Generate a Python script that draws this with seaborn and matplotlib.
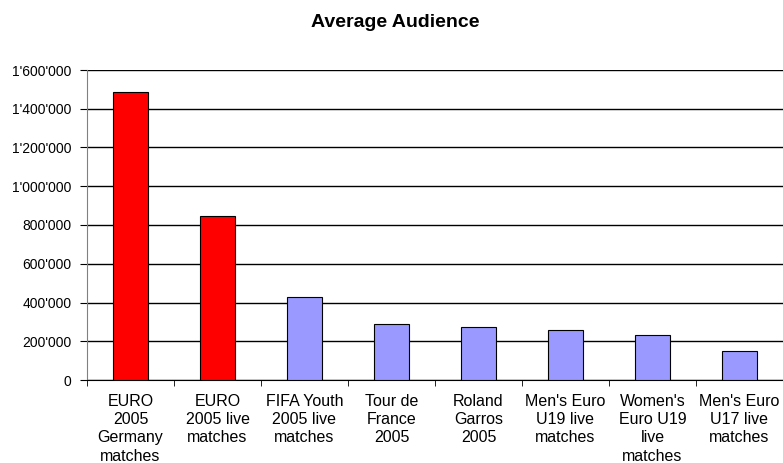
import matplotlib
matplotlib.use("Agg")
import matplotlib.pyplot as plt
import seaborn as sns
import numpy as np
from matplotlib.ticker import FuncFormatter, FixedLocator

# Data
categories = ["EURO\n2005\nGermany\nmatches", "EURO\n2005 live\nmatches", "FIFA Youth\n2005 live\nmatches",
              "Tour de\nFrance\n2005", "Roland\nGarros\n2005", "Men's Euro\nU19 live\nmatches",
              "Women's\nEuro U19\nlive\nmatches", "Men's Euro\nU17 live\nmatches"]
audience = [1485000, 845000, 430000, 290000, 275000, 258000, 232000, 150000]
bar_colors = ["#FF0000", "#FF0000", "#9999FF", "#9999FF", "#9999FF", "#9999FF", "#9999FF", "#9999FF"]

sns.set_style("white")
plt.rcParams['font.family'] = ['Liberation Sans', 'DejaVu Sans']
plt.rcParams['text.color'] = 'black'
plt.rcParams['xtick.color'] = 'black'
plt.rcParams['ytick.color'] = 'black'

fig = plt.figure(figsize=(7.83, 4.63), dpi=100)
ax = fig.add_axes([87/783, 1 - 380/463, 1 - 87/783, 310/463])

sns.barplot(x=categories, y=audience, hue=categories, palette=bar_colors, legend=False,
            width=0.41, edgecolor="black", linewidth=0.8, saturation=1, ax=ax, zorder=3)

ax.set_ylim(0, 1600000)
ax.set_xlim(-0.5, len(categories) - 0.5)
ax.yaxis.set_major_locator(FixedLocator(np.arange(0, 1600001, 200000)))
ax.yaxis.set_major_formatter(FuncFormatter(lambda v, p: f"{int(v):,}".replace(",", "'")))
ax.grid(axis="y", color="black", linewidth=1, zorder=0)
ax.set_axisbelow(True)

for s in ["top", "right"]:
    ax.spines[s].set_visible(False)
ax.spines["left"].set_color("#808080")
ax.spines["bottom"].set_color("black")

ax.tick_params(axis="y", which="major", direction="out", length=5, color="black", left=True, labelsize=10, pad=6)
ax.tick_params(axis="x", which="major", length=0, labelsize=11.5, pad=10)
ax.xaxis.set_minor_locator(FixedLocator(np.arange(-0.5, len(categories), 1.0)))
ax.tick_params(axis="x", which="minor", direction="out", length=4, color="black", bottom=True)
for lbl in ax.get_xticklabels():
    lbl.set_linespacing(1.27)

fig.suptitle("Average Audience", fontsize=14, fontweight="bold", x=0.505, y=0.97)

fig.savefig("out.png", dpi=100)
